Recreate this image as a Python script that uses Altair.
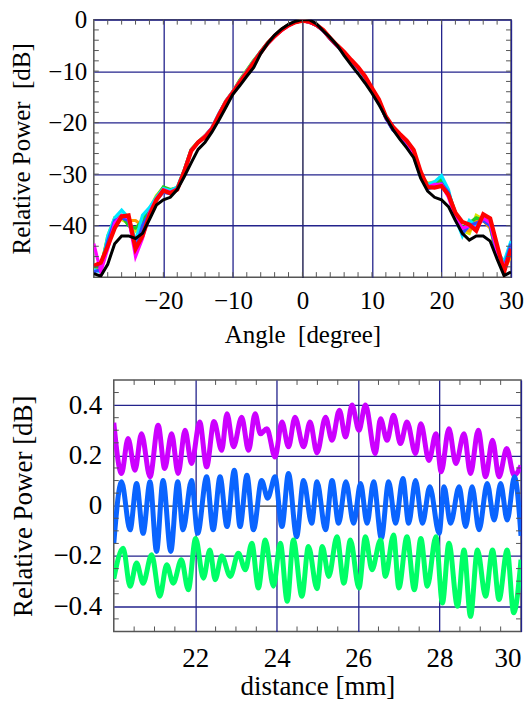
import altair as alt
import pandas as pd

FONT = "Liberation Serif, Times New Roman, serif"

# ---------------- top panel: beam patterns ----------------
angles = list(range(-30, 31))

red_db = [-47.8, -47.2, -44.0, -40.5, -38.2, -38.0, -44.5, -42.0, -38.0, -35.0,
          -33.2, -33.7, -33.0, -29.5, -25.5, -23.8, -22.8, -21.2, -18.5, -16.0,
          -14.2, -12.2, -10.3, -8.3, -6.4, -4.6, -3.2, -2.0, -1.1, -0.5,
          -0.2,
          -0.4, -1.0, -2.0, -3.6, -5.0, -6.3, -7.8, -9.2, -11.0, -13.3,
          -15.5, -18.8, -20.8, -22.2, -23.5, -25.3, -29.5, -32.5, -32.6, -32.3,
          -34.0, -37.5, -39.3, -39.8, -41.0, -37.8, -38.6, -43.8, -49.0, -44.5]

black_db = [-49.3, -49.8, -47.5, -43.5, -42.0, -42.0, -42.5, -41.5, -38.8, -36.0,
            -35.0, -34.5, -33.0, -30.5, -27.8, -25.2, -23.8, -21.8, -19.5, -17.0,
            -14.5, -12.8, -11.0, -9.3, -6.6, -4.6, -3.0, -1.8, -0.9, -0.3,
            0.0,
            0.0, -0.8, -2.2, -3.5, -5.0, -7.0, -8.8, -10.5, -12.3, -14.3,
            -16.5, -19.0, -21.3, -23.2, -24.9, -26.8, -30.8, -33.3, -34.5, -35.0,
            -36.3, -39.0, -41.5, -42.8, -42.0, -42.0, -43.0, -46.5, -49.7, -49.0]

cyan_db = [-48.5, -49.0, -42.0, -38.5, -37.0, -38.5, -43.0, -38.0, -36.5, -34.5,
           -32.8, -33.2, -32.5, -29.2, -25.3, -23.8, -22.6, -21.0, -18.2, -15.8,
           -14.0, -12.0, -10.0, -8.0, -6.2, -4.5, -3.1, -1.9, -1.0, -0.4,
           -0.1,
           -0.4, -1.0, -2.1, -3.7, -5.1, -6.5, -8.0, -9.4, -11.3, -13.6,
           -15.8, -19.2, -21.4, -22.6, -24.0, -26.5, -30.5, -32.0, -31.5, -30.3,
           -33.0, -38.5, -42.0, -39.0, -40.0, -38.5, -39.5, -45.0, -47.0, -43.0]

blue_db = [-49.0, -48.5, -43.0, -39.0, -38.5, -39.0, -44.5, -40.0, -37.5, -35.0,
           -33.5, -33.8, -32.8, -29.4, -25.4, -23.9, -22.7, -21.1, -18.4, -15.9,
           -14.1, -12.1, -10.2, -8.2, -6.3, -4.6, -3.2, -2.0, -1.1, -0.5,
           -0.2,
           -0.5, -1.1, -2.2, -3.8, -5.2, -6.5, -8.0, -9.4, -11.2, -13.5,
           -15.7, -19.1, -21.4, -22.6, -24.1, -26.3, -30.0, -32.8, -32.5, -31.8,
           -33.5, -38.0, -41.5, -40.0, -39.5, -39.0, -40.0, -45.5, -48.0, -43.5]

green_db = [-48.0, -48.0, -42.5, -38.8, -38.0, -40.0, -40.5, -39.0, -37.0, -34.5,
            -32.5, -33.0, -32.7, -29.3, -25.3, -23.8, -22.6, -21.0, -18.3, -15.8,
            -14.0, -11.8, -9.9, -8.0, -6.3, -4.6, -3.2, -2.0, -1.1, -0.5,
            -0.2,
            -0.5, -1.1, -2.1, -3.7, -5.1, -6.4, -7.9, -9.3, -11.1, -13.4,
            -15.6, -19.0, -21.3, -22.5, -23.9, -26.2, -30.2, -32.0, -31.8, -31.0,
            -33.5, -37.5, -40.5, -39.5, -38.5, -39.0, -40.0, -46.0, -48.5, -45.0]

yellow_db = [-48.5, -48.2, -42.0, -38.5, -38.8, -39.5, -41.0, -38.5, -36.8, -34.2,
             -32.6, -33.1, -32.6, -29.2, -25.2, -23.8, -22.5, -21.0, -18.3, -15.7,
             -13.9, -11.7, -9.8, -7.9, -6.2, -4.5, -3.1, -1.9, -1.0, -0.4,
             -0.1,
             -0.4, -1.0, -2.0, -3.6, -5.0, -6.4, -7.9, -9.3, -11.1, -13.4,
             -15.6, -19.0, -21.2, -22.4, -23.8, -26.2, -30.3, -31.8, -31.5, -31.5,
             -34.0, -38.0, -41.0, -41.5, -38.0, -38.8, -40.0, -46.0, -48.0, -45.5]

orange_db = [-48.2, -47.8, -43.5, -39.5, -38.5, -39.0, -39.0, -40.0, -37.0, -34.8,
             -32.7, -33.3, -32.8, -29.3, -25.3, -23.8, -22.6, -21.1, -18.4, -15.8,
             -14.0, -11.9, -10.0, -8.1, -6.3, -4.6, -3.2, -2.0, -1.1, -0.5,
             -0.2,
             -0.5, -1.1, -2.1, -3.7, -5.1, -6.4, -7.9, -9.3, -11.1, -13.4,
             -15.6, -19.1, -21.3, -22.5, -23.9, -26.2, -30.1, -32.3, -32.0, -31.8,
             -34.0, -38.2, -40.8, -41.0, -39.0, -39.0, -40.5, -45.5, -48.5, -46.0]

magenta_db = [-43.5, -49.0, -44.5, -39.5, -38.0, -38.5, -46.0, -42.5, -37.5, -34.8,
              -33.0, -33.5, -32.9, -29.4, -25.4, -23.9, -22.6, -21.0, -18.3, -15.8,
              -14.0, -12.0, -10.1, -8.2, -6.4, -4.7, -3.3, -2.1, -1.2, -0.5,
              -0.2,
              -0.5, -1.1, -2.1, -3.7, -5.1, -6.4, -7.9, -9.3, -11.1, -13.4,
              -15.7, -19.1, -21.3, -22.5, -23.8, -26.0, -29.8, -32.5, -32.0, -32.0,
              -34.5, -38.5, -40.5, -40.0, -40.5, -38.5, -39.5, -45.0, -48.0, -45.0]

thin_series = ["yellow", "orange", "green", "cyan", "blue", "magenta"]
thin_values = [yellow_db, orange_db, green_db, cyan_db, blue_db, magenta_db]
thin_colors = ["#d8e600", "#ff9a00", "#22cc22", "#00e8ff", "#2f4dff", "#ff00ff"]

top_x_ticks = [-20, -10, 0, 10, 20, 30]
top_y_ticks = [0, -10, -20, -30, -40]
top_x_minor = list(range(-28, 30, 2))
top_y_minor = list(range(-48, 0, 2))

# ---------------- bottom panel: standing-wave ripple ----------------
mag_d = [20.0, 20.19, 20.35, 20.52, 20.68, 20.89, 21.09, 21.25, 21.42, 21.58, 21.75, 21.91,
         22.11, 22.28, 22.46, 22.65, 22.78, 22.94, 23.14, 23.31, 23.47, 23.60, 23.76, 23.96,
         24.13, 24.29, 24.45, 24.66, 24.82, 24.99, 25.20, 25.36, 25.54, 25.69, 25.85, 26.02,
         26.18, 26.42, 26.55, 26.71, 26.87, 27.04, 27.20, 27.41, 27.54, 27.74, 27.91, 28.04,
         28.23, 28.40, 28.60, 28.76, 28.95, 29.13, 29.30, 29.46, 29.65, 29.83, 30.0]
mag_v = [0.33, 0.128, 0.267, 0.141, 0.286, 0.115, 0.32, 0.148, 0.286, 0.128, 0.30, 0.168,
         0.333, 0.154, 0.335, 0.22, 0.366, 0.234, 0.352, 0.22, 0.366, 0.286, 0.306, 0.194,
         0.333, 0.234, 0.352, 0.234, 0.333, 0.21, 0.352, 0.26, 0.38, 0.273, 0.40, 0.30,
         0.40, 0.207, 0.346, 0.26, 0.36, 0.247, 0.333, 0.207, 0.326, 0.18, 0.286, 0.135,
         0.306, 0.168, 0.286, 0.128, 0.30, 0.115, 0.26, 0.115, 0.227, 0.121, 0.16]

blu_d = [20.0, 20.19, 20.40, 20.56, 20.72, 20.89, 21.05, 21.21, 21.40, 21.57, 21.70, 21.91,
         22.06, 22.28, 22.44, 22.61, 22.78, 22.96, 23.10, 23.27, 23.43, 23.63, 23.78, 23.96,
         24.13, 24.29, 24.49, 24.66, 24.86, 24.99, 25.20, 25.36, 25.52, 25.70, 25.89, 26.06,
         26.22, 26.38, 26.57, 26.75, 26.92, 27.10, 27.24, 27.41, 27.58, 27.76, 27.99, 28.11,
         28.27, 28.48, 28.64, 28.80, 28.97, 29.17, 29.34, 29.50, 29.66, 29.84, 30.0]
blu_v = [-0.15, 0.095, -0.096, 0.088, -0.11, 0.095, -0.182, 0.10, -0.182, 0.095, -0.096, 0.10,
         -0.11, 0.115, -0.096, 0.115, -0.083, 0.141, -0.083, 0.121, -0.096, 0.10, 0.03, 0.115,
         -0.083, 0.128, -0.123, 0.10, -0.07, 0.095, -0.096, 0.10, -0.07, 0.095, -0.07, 0.088,
         -0.07, 0.095, -0.129, 0.095, -0.07, 0.108, -0.07, 0.10, -0.07, 0.075, -0.11, 0.075,
         -0.07, 0.075, -0.083, 0.075, -0.096, 0.088, -0.057, 0.088, -0.057, 0.115, -0.12]

grn_d = [20.0, 20.23, 20.40, 20.56, 20.72, 20.93, 21.13, 21.30, 21.46, 21.66, 21.83, 22.01,
         22.20, 22.36, 22.49, 22.65, 22.86, 23.06, 23.23, 23.39, 23.55, 23.72, 23.92, 24.09,
         24.26, 24.41, 24.62, 24.78, 24.99, 25.12, 25.28, 25.48, 25.65, 25.81, 26.02, 26.18,
         26.34, 26.55, 26.67, 26.87, 27.00, 27.20, 27.38, 27.54, 27.70, 27.91, 28.07, 28.23,
         28.44, 28.60, 28.76, 28.93, 29.13, 29.30, 29.46, 29.66, 29.82, 30.0]
grn_v = [-0.29, -0.169, -0.32, -0.228, -0.308, -0.195, -0.36, -0.235, -0.308, -0.215, -0.334, -0.13,
         -0.288, -0.176, -0.294, -0.20, -0.281, -0.189, -0.255, -0.149, -0.327, -0.136, -0.32, -0.149,
         -0.38, -0.136, -0.36, -0.162, -0.33, -0.162, -0.281, -0.123, -0.308, -0.136, -0.327, -0.123,
         -0.255, -0.136, -0.281, -0.116, -0.327, -0.123, -0.334, -0.13, -0.32, -0.123, -0.387, -0.149,
         -0.40, -0.176, -0.44, -0.176, -0.36, -0.176, -0.373, -0.176, -0.426, -0.215]

bot_x_ticks = [22, 24, 26, 28, 30]
bot_y_ticks = [-0.4, -0.2, 0, 0.2, 0.4]
bot_x_minor = [20.5, 21, 21.5, 22.5, 23, 23.5, 24.5, 25, 25.5, 26.5, 27, 27.5, 28.5, 29, 29.5]
bot_y_minor = [-0.45, -0.35, -0.3, -0.25, -0.15, -0.1, -0.05, 0.05, 0.1, 0.15, 0.25, 0.3, 0.35, 0.45]

GRID = "#23238c"
FRAME = "#555555"

# ================= top chart =================
W1, H1 = 418, 258
xs1 = alt.Scale(domain=[-30, 30], nice=False, zero=False)
ys1 = alt.Scale(domain=[-50, 0], nice=False, zero=False)

x1 = alt.X("angle:Q", scale=xs1, axis=alt.Axis(
    values=top_x_ticks, title="Angle\u00a0 [degree]", grid=True,
    gridColor={"condition": {"test": "datum.value === 0", "value": "#0a0a40"}, "value": GRID},
    gridWidth=1.3, ticks=False, tickSize=0, domain=False, labelFlush=False,
    labelFont=FONT, labelFontSize=25, labelColor="black", labelPadding=11,
    titleFont=FONT, titleFontSize=25, titleColor="black", titleFontWeight="normal", titlePadding=9))
y1 = alt.Y("db:Q", scale=ys1, axis=alt.Axis(
    values=top_y_ticks, title="Relative Power\u00a0 [dB]", grid=True, gridColor=GRID,
    gridWidth=1.3, ticks=False, tickSize=0, domain=False,
    labelFont=FONT, labelFontSize=25, labelColor="black", labelPadding=7,
    titleFont=FONT, titleFontSize=25, titleColor="black", titleFontWeight="normal", titlePadding=13))

thin_rows = []
for name, vals in zip(thin_series, thin_values):
    for a, v in zip(angles, vals):
        thin_rows.append({"angle": a, "db": v, "series": name})
thin_df = pd.DataFrame(thin_rows)

thin_layer = alt.Chart(thin_df).mark_line(strokeWidth=3.2, clip=True).encode(
    x=x1, y=y1,
    color=alt.Color("series:N", scale=alt.Scale(domain=thin_series, range=thin_colors), legend=None),
    order=alt.Order("angle:Q"))
red_layer = alt.Chart(pd.DataFrame({"angle": angles, "db": red_db})).mark_line(
    strokeWidth=4.2, color="#ff0000", clip=True).encode(x=x1, y=y1)
black_layer = alt.Chart(pd.DataFrame({"angle": angles, "db": black_db})).mark_line(
    strokeWidth=3, color="#000000", clip=True).encode(x=x1, y=y1)


def minor_ticks(xvals, yvals, xenc, yenc, xfield, yfield, W, H, L=5):
    xdf = pd.DataFrame({xfield: xvals})
    ydf = pd.DataFrame({yfield: yvals})
    base_x = alt.Chart(xdf).mark_rule(color=FRAME, strokeWidth=1)
    base_y = alt.Chart(ydf).mark_rule(color=FRAME, strokeWidth=1)
    return [
        base_x.encode(x=xenc, y=alt.value(H), y2=alt.value(H - L)),
        base_x.encode(x=xenc, y=alt.value(0), y2=alt.value(L)),
        base_y.encode(y=yenc, x=alt.value(0), x2=alt.value(L)),
        base_y.encode(y=yenc, x=alt.value(W), x2=alt.value(W - L)),
    ]


def spacer(w):
    return alt.Chart(pd.DataFrame({"s": [0]})).mark_point(opacity=0).encode(
        x=alt.value(0), y=alt.value(0)
    ).properties(width=w, height=1, view=alt.ViewBackground(stroke="transparent"))


top = alt.layer(thin_layer, red_layer, black_layer,
                *minor_ticks(top_x_minor, top_y_minor, x1, y1, "angle", "db", W1, H1)
                ).properties(width=W1, height=H1)

# ================= bottom chart =================
W2, H2 = 408, 252
xs2 = alt.Scale(domain=[20, 30], nice=False, zero=False)
ys2 = alt.Scale(domain=[-0.5, 0.5], nice=False, zero=False)

x2 = alt.X("d:Q", scale=xs2, axis=alt.Axis(
    values=bot_x_ticks, title="distance [mm]", grid=True, gridColor=GRID,
    gridWidth=1.3, ticks=False, tickSize=0, domain=False, labelFlush=True,
    labelFont=FONT, labelFontSize=27, labelColor="black", labelPadding=14,
    titleFont=FONT, titleFontSize=27, titleColor="black", titleFontWeight="normal", titlePadding=2))
y2 = alt.Y("v:Q", scale=ys2, axis=alt.Axis(
    values=bot_y_ticks, title="Relative Power [dB]", grid=True,
    gridColor={"condition": {"test": "datum.value === 0", "value": "#333333"}, "value": GRID},
    gridWidth=1.3, ticks=False, tickSize=0, domain=False,
    labelExpr="datum.value === 0 ? '0' : format(datum.value, '.1f')",
    labelFont=FONT, labelFontSize=27, labelColor="black", labelPadding=12,
    titleFont=FONT, titleFontSize=27, titleColor="black", titleFontWeight="normal", titlePadding=15))

mag_layer = alt.Chart(pd.DataFrame({"d": mag_d, "v": mag_v})).mark_line(
    strokeWidth=5, color="#cc00ff", interpolate="monotone", clip=True).encode(x=x2, y=y2)
blu_layer = alt.Chart(pd.DataFrame({"d": blu_d, "v": blu_v})).mark_line(
    strokeWidth=5, color="#0a64ff", interpolate="monotone", clip=True).encode(x=x2, y=y2)
grn_layer = alt.Chart(pd.DataFrame({"d": grn_d, "v": grn_v})).mark_line(
    strokeWidth=5, color="#00ff66", interpolate="monotone", clip=True).encode(x=x2, y=y2)

bottom = alt.layer(mag_layer, blu_layer, grn_layer,
                   *minor_ticks(bot_x_minor, bot_y_minor, x2, y2, "d", "v", W2, H2)
                   ).properties(width=W2, height=H2)

row_top = alt.hconcat(spacer(1), top, spacing=0)
row_bot = alt.hconcat(spacer(1), bottom, spacing=0)

chart = alt.vconcat(row_top, row_bot, spacing=28).properties(
    padding={"left": 1, "top": 6, "right": 0, "bottom": 0}
).configure_view(stroke=FRAME, strokeWidth=1.5)

chart.save("out.html", embed_options={"renderer": "svg", "actions": False})
